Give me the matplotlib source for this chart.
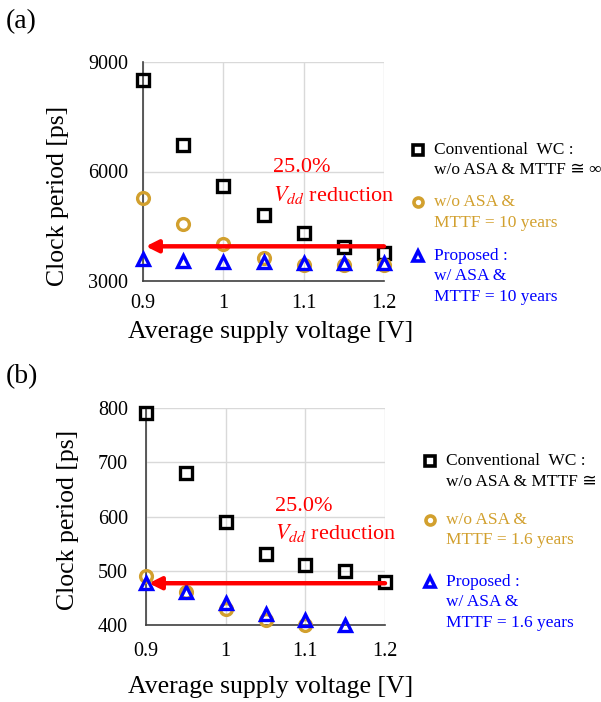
import matplotlib
matplotlib.use("Agg")
import matplotlib.pyplot as plt
import numpy as np

plt.rcParams["font.family"] = ["Liberation Serif", "DejaVu Serif", "DejaVu Sans"]
plt.rcParams["mathtext.fontset"] = "stix"

# data
vdd = [0.9, 0.95, 1.0, 1.05, 1.1, 1.15, 1.2]

# (a) MTTF = 10 years
conv_a = [8500, 6720, 5600, 4800, 4310, 3930, 3760]
woasa_a = [5270, 4550, 4020, 3640, 3450, 3450, 3450]
prop_a = [3590, 3540, 3520, 3530, 3490, 3490, 3490]
arrow_a = 3950

# (b) MTTF = 1.6 years
conv_b = [790, 680, 590, 530, 510, 500, 480]
woasa_b = [490, 460, 430, 410, 400, np.nan, np.nan]
prop_b = [478, 460, 440, 420, 410, 400, np.nan]
arrow_b = 477

gold = "#D2A02E"
blue = "#0000FF"
red = "#FF0000"
fams = ["Liberation Serif", "DejaVu Serif", "DejaVu Sans"]

fig = plt.figure(figsize=(6.01, 7.02), dpi=100)
W, H = 601, 702


def ax_rect(l, r, t, b):
    return [l / W, 1 - b / H, (r - l) / W, (b - t) / H]


def style_axes(ax, ylim, yticks, ypad, xpad):
    ax.set_xlim(0.9, 1.2)
    ax.set_ylim(*ylim)
    ax.set_xticks([0.9, 1.0, 1.1, 1.2])
    ax.set_xticklabels(["0.9", "1", "1.1", "1.2"])
    ax.set_yticks(yticks)
    ax.grid(True, color="#d9d9d9", lw=1)
    ax.set_axisbelow(True)
    for s in ["top", "right"]:
        ax.spines[s].set_visible(False)
    for s in ["left", "bottom"]:
        ax.spines[s].set_color("#404040")
        ax.spines[s].set_linewidth(1.2)
    ax.tick_params(axis="y", length=0, labelsize=14.5, pad=ypad)
    ax.tick_params(axis="x", length=0, labelsize=14.5, pad=xpad)


def draw_series(ax, conv, woasa, prop):
    ax.plot(vdd, conv, ls="none", marker="s", ms=8, mfc="none", mec="black",
            mew=2.4, clip_on=False, zorder=3)
    ax.plot(vdd, woasa, ls="none", marker="o", ms=8.5, mfc="none", mec=gold,
            mew=2.4, clip_on=False, zorder=3)
    ax.plot(vdd, prop, ls="none", marker="^", ms=8.5, mfc="none", mec=blue,
            mew=2.4, clip_on=False, zorder=4)


def draw_arrow(ax, yv, tx, ty1, ty2):
    ax.annotate("", xy=(0.9, yv), xytext=(1.2, yv),
                arrowprops=dict(arrowstyle="-|>", color=red, lw=3.2,
                                mutation_scale=18, shrinkA=0, shrinkB=2),
                zorder=5)
    ax.text(tx, ty1, "25.0%", color=red, fontsize=16, va="center", ha="left")
    ax.text(tx, ty2, "$V_{dd}$ reduction", color=red, fontsize=16,
            va="center", ha="left")


def draw_legend(mx, tx, ys, labels, colors, markers):
    for y, lab, c, m in zip(ys, labels, colors, markers):
        fig.lines.append(plt.Line2D([mx / W], [1 - y / H], marker=m, ms=6.5,
                                    mfc="none", mec=c, mew=2.6,
                                    transform=fig.transFigure))
        for i, line in enumerate(lab):
            fig.text(tx / W, 1 - (y + i * 20.5) / H, line, color=c,
                     fontsize=12.5, va="center", ha="left", family=fams)


# panel (a)
ax1 = fig.add_axes(ax_rect(143, 384, 62, 281))
style_axes(ax1, (3000, 9000), [3000, 6000, 9000], 10.5, 9)
draw_series(ax1, conv_a, woasa_a, prop_a)
draw_arrow(ax1, arrow_a, 1.062, 6100, 5350)
ax1.set_xlabel("Average supply voltage [V]", fontsize=18.5)
ax1.xaxis.set_label_coords(0.528, -0.233)
ax1.xaxis.label.set_va("center")
ax1.set_ylabel("Clock period [ps]", fontsize=18.5)
ax1.yaxis.set_label_coords(-0.353, 0.388)
ax1.yaxis.label.set_va("center")
fig.text(6 / W, 1 - 22 / H, "(a)", fontsize=20, va="center", ha="left")

draw_legend(418, 434, [150, 202, 256],
            [["Conventional  WC :", "w/o ASA & MTTF \u2245 \u221e"],
             ["w/o ASA &", "MTTF = 10 years"],
             ["Proposed :", "w/ ASA &", "MTTF = 10 years"]],
            ["black", gold, blue], ["s", "o", "^"])

# panel (b)
ax2 = fig.add_axes(ax_rect(146, 385, 408, 625))
style_axes(ax2, (400, 800), [400, 500, 600, 700, 800], 13, 12)
draw_series(ax2, conv_b, woasa_b, prop_b)
draw_arrow(ax2, arrow_b, 1.062, 618, 569)
ax2.set_xlabel("Average supply voltage [V]", fontsize=18.5)
ax2.xaxis.set_label_coords(0.520, -0.286)
ax2.xaxis.label.set_va("center")
ax2.set_ylabel("Clock period [ps]", fontsize=18.5)
ax2.yaxis.set_label_coords(-0.326, 0.484)
ax2.yaxis.label.set_va("center")
fig.text(6 / W, 1 - 377 / H, "(b)", fontsize=20, va="center", ha="left")

draw_legend(430, 446, [461, 520, 582],
            [["Conventional  WC :", "w/o ASA & MTTF \u2245 \u221e"],
             ["w/o ASA &", "MTTF = 1.6 years"],
             ["Proposed :", "w/ ASA &", "MTTF = 1.6 years"]],
            ["black", gold, blue], ["s", "o", "^"])

fig.savefig("out.png", dpi=100)
